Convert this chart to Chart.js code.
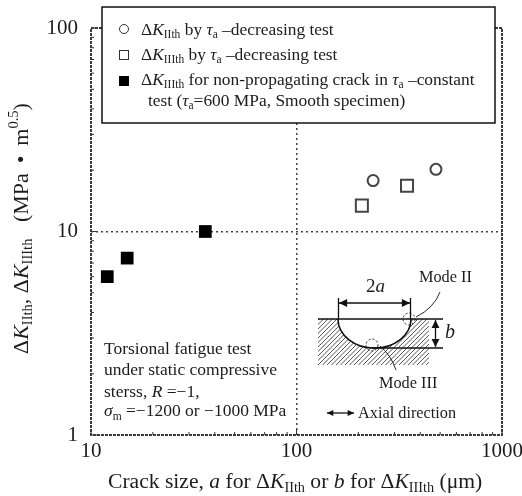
<!DOCTYPE html>
<html>
<head>
<meta charset="utf-8">
<title>Threshold values vs crack size</title>
<script src="https://cdn.jsdelivr.net/npm/chart.js@4"></script>
<style>
body { margin:0; background:#fff; }
canvas { display:block; }
</style>
</head>
<body>
<canvas id="thresholdChart" width="522" height="496"></canvas>
<script>
var modeIIsize = [236, 477];
var modeIIk = [17.8, 20.2];
var modeIIIsize = [208, 345];
var modeIIIk = [13.4, 16.8];
var nonPropSize = [12, 15, 36];
var nonPropK = [6.0, 7.4, 10];

var xLabelled = [10, 100, 1000];
var yLabelled = [1, 10, 100];
var xMinor = [20, 30, 40, 50, 60, 70, 80, 90, 200, 300, 400, 500, 600, 700, 800, 900];
var yMinor = [2, 3, 4, 5, 6, 7, 8, 9, 20, 30, 40, 50, 60, 70, 80, 90];

var serif = '"Liberation Serif", serif';
var ink = "#1c1c1c";

// text made of runs: [string, "i" italic, "s" subscript, "u" superscript]
function drawRuns(ctx, runs, x, y, size) {
    ctx.textAlign = "left";
    ctx.textBaseline = "alphabetic";
    ctx.fillStyle = ink;
    runs.forEach(function(run) {
        var style = run[1] || "";
        var s = size;
        var dy = 0;
        if (style.indexOf("s") >= 0) { s = size*0.66; dy = size*0.2; }
        if (style.indexOf("u") >= 0) { s = size*0.66; dy = -size*0.45; }
        ctx.font = (style.indexOf("i") >= 0 ? "italic " : "") + s + "px " + serif;
        ctx.fillText(run[0], x, y+dy);
        x += ctx.measureText(run[0]).width;
    });
}

function arrow(ctx, x1, y1, x2, y2, head) {
    var a = Math.atan2(y2-y1, x2-x1);
    ctx.beginPath();
    ctx.moveTo(x1, y1);
    ctx.lineTo(x2, y2);
    ctx.stroke();
    [[x1, y1, a+Math.PI], [x2, y2, a]].forEach(function(p) {
        ctx.beginPath();
        ctx.moveTo(p[0], p[1]);
        ctx.lineTo(p[0]-head*Math.cos(p[2]-0.45), p[1]-head*Math.sin(p[2]-0.45));
        ctx.lineTo(p[0]-head*Math.cos(p[2]+0.45), p[1]-head*Math.sin(p[2]+0.45));
        ctx.closePath();
        ctx.fill();
    });
}

function drawFrame(chart) {
    var ctx = chart.ctx;
    var area = chart.chartArea;
    var xs = chart.scales.x;
    var ys = chart.scales.y;
    ctx.save();
    ctx.strokeStyle = "#333";
    ctx.lineWidth = 1;
    xLabelled.concat(xMinor).forEach(function(v) {
        var px = xs.getPixelForValue(v);
        var len = xLabelled.indexOf(v) >= 0 ? 6 : 3;
        ctx.beginPath();
        ctx.moveTo(px, area.bottom);
        ctx.lineTo(px, area.bottom-len);
        ctx.stroke();
    });
    yLabelled.concat(yMinor).forEach(function(v) {
        var py = ys.getPixelForValue(v);
        var len = yLabelled.indexOf(v) >= 0 ? 6 : 3;
        ctx.beginPath();
        ctx.moveTo(area.left, py);
        ctx.lineTo(area.left+len, py);
        ctx.stroke();
    });
    ctx.lineWidth = 2;
    ctx.strokeStyle = "#3a3a3a";
    ctx.setLineDash([3, 1]);
    ctx.strokeRect(area.left, area.top, area.right-area.left, area.bottom-area.top);
    ctx.restore();
}

function drawLegendBox(ctx) {
    ctx.save();
    ctx.fillStyle = "#fff";
    ctx.fillRect(102, 7, 393, 116);
    ctx.strokeStyle = "#111";
    ctx.lineWidth = 1.5;
    ctx.strokeRect(102, 7, 393, 116);
    ctx.strokeStyle = "#333";
    ctx.lineWidth = 1;
    ctx.beginPath();
    ctx.arc(124, 29, 4.5, 0, Math.PI*2);
    ctx.stroke();
    ctx.strokeRect(119.5, 50.5, 9, 9);
    ctx.fillStyle = "#000";
    ctx.fillRect(119, 76, 10, 10);
    drawRuns(ctx, [["Δ"], ["K", "i"], ["IIth", "s"], [" by "], ["τ", "i"], ["a", "s"], [" –decreasing test"]], 141, 35, 17.4);
    drawRuns(ctx, [["Δ"], ["K", "i"], ["IIIth", "s"], [" by "], ["τ", "i"], ["a", "s"], [" –decreasing test"]], 141, 60, 17.4);
    drawRuns(ctx, [["Δ"], ["K", "i"], ["IIIth", "s"], [" for non-propagating crack in "], ["τ", "i"], ["a", "s"], [" –constant"]], 141, 85, 17.4);
    drawRuns(ctx, [["test ("], ["τ", "i"], ["a", "s"], ["=600 MPa, Smooth specimen)"]], 148, 106, 17.4);
    ctx.restore();
}

function drawInset(ctx) {
    ctx.save();
    var cx = 374.5, top = 319, rx = 36.5, ry = 29;
    // hatching around the crack
    ctx.save();
    ctx.beginPath();
    ctx.rect(318, top, 111, 46);
    ctx.clip();
    ctx.strokeStyle = "#555";
    ctx.lineWidth = 1;
    for (var i = 250; i < 440; i += 4.5) {
        ctx.beginPath();
        ctx.moveTo(i, 370);
        ctx.lineTo(i+55, 315);
        ctx.stroke();
    }
    ctx.restore();
    ctx.fillStyle = "#fff";
    ctx.beginPath();
    ctx.ellipse(cx, top, rx, ry, 0, 0, Math.PI);
    ctx.closePath();
    ctx.fill();

    ctx.strokeStyle = "#111";
    ctx.fillStyle = "#111";
    ctx.lineWidth = 1.6;
    ctx.beginPath();
    ctx.ellipse(cx, top, rx, ry, 0, 0, Math.PI);
    ctx.stroke();
    ctx.lineWidth = 1.3;
    ctx.beginPath();
    ctx.moveTo(318, top); ctx.lineTo(443, top);
    ctx.moveTo(372, 348); ctx.lineTo(443, 348);
    ctx.moveTo(338.5, 298); ctx.lineTo(338.5, top);
    ctx.moveTo(410.5, 298); ctx.lineTo(410.5, top);
    ctx.stroke();
    arrow(ctx, 339, 303, 410, 303, 9);
    arrow(ctx, 435.5, 320, 435.5, 347, 9);
    arrow(ctx, 327, 413, 354, 413, 7);

    // leaders and dashed circles at the two crack modes
    ctx.lineWidth = 0.9;
    ctx.beginPath();
    ctx.moveTo(416, 317);
    ctx.quadraticCurveTo(434, 308, 440, 292);
    ctx.moveTo(380, 346);
    ctx.quadraticCurveTo(391, 355, 396, 370);
    ctx.stroke();
    ctx.setLineDash([2, 2]);
    ctx.beginPath();
    ctx.arc(409, 319, 6, 0, Math.PI*2);
    ctx.moveTo(378, 345);
    ctx.arc(372, 345, 6, 0, Math.PI*2);
    ctx.stroke();
    ctx.restore();

    drawRuns(ctx, [["2"], ["a", "i"]], 366, 292, 19);
    drawRuns(ctx, [["b", "i"]], 445, 338, 20);
    drawRuns(ctx, [["Mode II"]], 419, 282, 16.3);
    drawRuns(ctx, [["Mode III"]], 379, 388, 16.3);
    drawRuns(ctx, [["Axial direction"]], 358, 418, 16.3);
}

var overlayPlugin = {
    id: "overlay",
    beforeDatasetsDraw: function(chart) {
        drawFrame(chart);
    },
    afterDatasetsDraw: function(chart) {
        var ctx = chart.ctx;
        drawLegendBox(ctx);
        drawInset(ctx);

        drawRuns(ctx, [["Torsional fatigue test"]], 104, 354, 17.5);
        drawRuns(ctx, [["under static compressive"]], 104, 375, 17.5);
        drawRuns(ctx, [["sterss, "], ["R", "i"], [" =−1,"]], 104, 397, 17.5);
        drawRuns(ctx, [["σ", "i"], ["m", "s"], [" =−1200 or −1000 MPa"]], 104, 416, 17.5);

        drawRuns(ctx, [["Crack size, "], ["a", "i"], [" for Δ"], ["K", "i"], ["IIth", "s"], [" or "], ["b", "i"], [" for Δ"], ["K", "i"], ["IIIth", "s"], [" (μm)"]], 108, 488, 21.6);

        ctx.save();
        ctx.translate(28, 354);
        ctx.rotate(-Math.PI/2);
        drawRuns(ctx, [["Δ"], ["K", "i"], ["IIth", "s"], [", Δ"], ["K", "i"], ["IIIth", "s"], ["   (MPa \u2009•\u2009 m"], ["0.5", "u"], [")"]], 0, 0, 22);
        ctx.restore();
    }
};

function pickTicks(labelled, minor) {
    return function(scale) {
        scale.ticks = labelled.concat(minor).sort(function(a, b) { return a-b; }).map(function(v) {
            return { value: v };
        });
    };
}

new Chart(document.getElementById("thresholdChart"), {
    type: "scatter",
    data: {
        datasets: [
            {
                data: modeIIsize.map(function(v, i) { return { x: v, y: modeIIk[i] }; }),
                pointStyle: "circle", pointRadius: 5.5, borderWidth: 2,
                borderColor: "#444", backgroundColor: "#fff"
            },
            {
                data: modeIIIsize.map(function(v, i) { return { x: v, y: modeIIIk[i] }; }),
                pointStyle: "rect", pointRadius: 8.5, borderWidth: 2,
                borderColor: "#444", backgroundColor: "#fff"
            },
            {
                data: nonPropSize.map(function(v, i) { return { x: v, y: nonPropK[i] }; }),
                pointStyle: "rect", pointRadius: 9, borderWidth: 0,
                borderColor: "#000", backgroundColor: "#000"
            }
        ]
    },
    plugins: [overlayPlugin],
    options: {
        responsive: false,
        animation: false,
        layout: { padding: { top: 28, right: 20, left: 0, bottom: 0 } },
        plugins: { legend: { display: false }, tooltip: { enabled: false } },
        scales: {
            x: {
                type: "logarithmic",
                min: 10,
                max: 1000,
                afterBuildTicks: pickTicks(xLabelled, xMinor),
                afterFit: function(scale) {
                    scale.height = 61;
                    scale.paddingLeft = 0;
                    scale.paddingRight = 0;
                },
                border: { display: false, dash: [2, 3] },
                grid: {
                    drawTicks: false,
                    lineWidth: 1.5,
                    color: function(c) { return c.tick && c.tick.value == 100 ? "#444" : "transparent"; }
                },
                ticks: {
                    autoSkip: false,
                    maxRotation: 0,
                    padding: 4,
                    color: ink,
                    font: { family: serif, size: 21 },
                    callback: function(v) { return xLabelled.indexOf(v) >= 0 ? String(v) : ""; }
                }
            },
            y: {
                type: "logarithmic",
                min: 1,
                max: 100,
                afterBuildTicks: pickTicks(yLabelled, yMinor),
                afterFit: function(scale) {
                    scale.width = 91;
                    scale.paddingTop = 0;
                    scale.paddingBottom = 0;
                },
                border: { display: false, dash: [2, 3] },
                grid: {
                    drawTicks: false,
                    lineWidth: 1.5,
                    color: function(c) { return c.tick && c.tick.value == 10 ? "#444" : "transparent"; }
                },
                ticks: {
                    autoSkip: false,
                    padding: 13,
                    color: ink,
                    font: { family: serif, size: 21 },
                    callback: function(v) { return yLabelled.indexOf(v) >= 0 ? String(v) : ""; }
                }
            }
        }
    }
});
</script>
</body>
</html>
